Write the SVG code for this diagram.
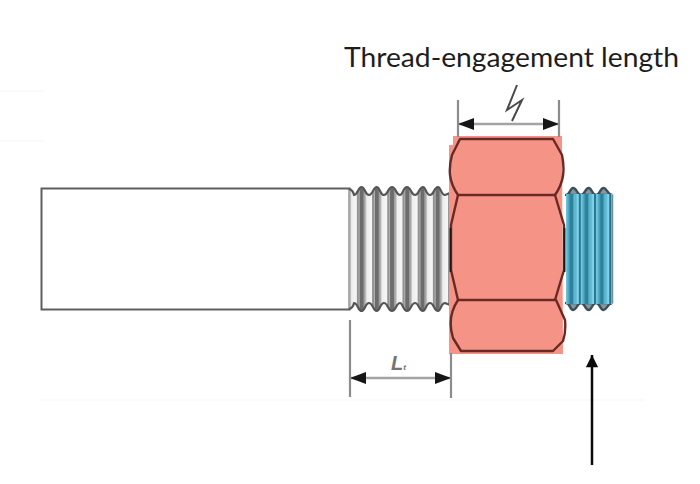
<svg xmlns="http://www.w3.org/2000/svg" width="700" height="484" viewBox="0 0 700 484">
<style>
.faint{stroke:#f6f6f6;stroke-width:1.2;fill:none}
.nutline{stroke:#6a2a24;stroke-width:2.4;fill:none;stroke-linejoin:round}
.ext{stroke:#8c8c8c;stroke-width:2.2;fill:none}
.dim{stroke:#a3a3a3;stroke-width:2.6;fill:none}
.head{fill:#161616}
.grey{stroke:#555;stroke-width:2.2;fill:none;stroke-linejoin:round}
.teal{stroke:#3d4f58;stroke-width:2.4;fill:#7f9aa3;stroke-linejoin:round}
</style>
<defs>
<filter id="soft" x="-5%" y="-5%" width="110%" height="110%"><feGaussianBlur stdDeviation="0.6"/></filter>
<pattern id="gt" patternUnits="userSpaceOnUse" x="354" y="0" width="15.2" height="10">
<rect width="15.2" height="10" fill="#c4c4c4"/>
<rect x="0" width="3" height="10" fill="#f4f4f4"/>
<rect x="3" width="1.6" height="10" fill="#8a8a8a"/>
<rect x="5.500" width="4.500" height="10" fill="#6c6c6c"/>
<rect x="10" width="1.6" height="10" fill="#a8a8a8"/>
<rect x="12.200" width="3" height="10" fill="#efefef"/>
</pattern>
<pattern id="bt" patternUnits="userSpaceOnUse" x="565.500" y="0" width="15.200" height="10">
<rect width="15.200" height="10" fill="#4fa8c4"/>
<rect x="0" width="2" height="10" fill="#6cc6df"/>
<rect x="4" width="4" height="10" fill="#2f8199"/>
<rect x="8" width="3" height="10" fill="#5db7d1"/>
<rect x="11" width="2.400" height="10" fill="#7ad3ea"/>
<rect x="13.400" width="1.800" height="10" fill="#2c6f86"/>
</pattern>
<marker id="ah" viewBox="0 0 16 12" refX="16" refY="6" markerWidth="16" markerHeight="12" markerUnits="userSpaceOnUse" orient="auto-start-reverse"><path d="M0 0L16 6L0 12Z" class="head"/></marker>
<marker id="up" viewBox="0 0 14 16" refX="14" refY="7" markerWidth="14" markerHeight="14" markerUnits="userSpaceOnUse" orient="auto"><path d="M0 0L14 7L0 14Z" fill="#0a0a0a"/></marker>
</defs>

<g id="background">
<path class="faint" d="M0 91H44M0 141H44M40 400H645"/>
</g>

<g id="bolt-body">
<rect x="41.500" y="188.500" width="308" height="121" fill="#fff" stroke="#5f5f5f" stroke-width="2"/>
</g>

<g id="bolt-thread">
<path fill="url(#gt)" filter="url(#soft)" d="M349 189C353 190 354 195 354 195C358 195 358 187 361.500 187C365 187 365 195 369 195C373 195 373 187 376.700 187C380 187 380 195 384 195C388 195 388 187 392 187C396 187 396 195 400 195C403 195 403 187 407 187C411 187 411 195 415 195C419 195 419 187 423 187C426 187 426 195 430 195C434 195 434 187 438 187C441 187 441 195 445 195L450 193V305L445 303C441 303 441 311 438 311C434 311 434 303 430 303C426 303 426 311 423 311C419 311 419 303 415 303C411 303 411 311 407 311C403 311 403 303 400 303C396 303 396 311 392 311C388 311 388 303 384 303C380 303 380 311 376.700 311C373 311 373 303 369 303C365 303 365 311 361.500 311C358 311 358 303 354 303C354 303 353 308 349 309Z"/>
<path class="grey" d="M349 189C353 190 354 195 354 195C358 195 358 187 361.500 187C365 187 365 195 369 195C373 195 373 187 376.700 187C380 187 380 195 384 195C388 195 388 187 392 187C396 187 396 195 400 195C403 195 403 187 407 187C411 187 411 195 415 195C419 195 419 187 423 187C426 187 426 195 430 195C434 195 434 187 438 187C441 187 441 195 445 195L450 193"/>
<path class="grey" d="M349 309C353 308 354 303 354 303C358 303 358 311 361.500 311C365 311 365 303 369 303C373 303 373 311 376.700 311C380 311 380 303 384 303C388 303 388 311 392 311C396 311 396 303 400 303C403 303 403 311 407 311C411 311 411 303 415 303C419 303 419 311 423 311C426 311 426 303 430 303C434 303 434 311 438 311C441 311 441 303 445 303L450 305"/>
</g>

<g id="bolt-end">
<path class="teal" d="M566 195C570 195 570 188 573 188C577 188 577 195 581 195C585 195 585 188 588.700 188C592 188 592 195 596 195C600 195 600 188 603.500 188C607 188 607 194 612 195Z"/>
<path class="teal" d="M566 303C570 303 570 310 573 310C577 310 577 303 581 303C585 303 585 310 588.700 310C592 310 592 303 596 303C600 303 600 310 603.500 310C607 310 607 304 612 303Z"/>
<rect x="566" y="194" width="47" height="110" fill="url(#bt)" filter="url(#soft)"/>
<path d="M612.500 195V303" stroke="#6d8f99" stroke-width="1.500" fill="none"/>
</g>

<g id="nut">
<path fill="#f69387" d="M453 136H562V146L563 354H449V145H453Z"/>
<path class="nutline" d="M460 139H553L562 155C565 170 564 182 555 195H458C449 182 448 170 452 155Z"/>
<path class="nutline" d="M458 195L451 225V270L458 300M555 195L564 225V270L555 300"/>
<path class="nutline" d="M458 300H556L565 320C566 330 565 335 563 341L553 351H461L453 338C449 325 450 312 458 300Z"/>
<path d="M450.500 228V272" stroke="#2a1512" stroke-width="1.800" fill="none"/>
<path d="M564.500 228V272" stroke="#2a1512" stroke-width="1.800" fill="none"/>
</g>

<g id="connectors">
<path class="ext" d="M458 100V137M559 100V137M350 320V397M451 353V398"/>
<path class="dim" d="M458 124H559" marker-start="url(#ah)" marker-end="url(#ah)"/>
<path class="dim" d="M350 378H451" marker-start="url(#ah)" marker-end="url(#ah)"/>
<path d="M592 465V355" stroke="#0a0a0a" stroke-width="2.500" fill="none" marker-end="url(#up)"/>
<path d="M517 85L507 110L522 100L512 121" stroke="#4a4a4a" stroke-width="2" fill="none" stroke-linejoin="miter"/>
</g>

<g id="labels">
<text x="344" y="67" font-family="Lato, sans-serif" font-size="27" fill="#1d1d1d" textLength="335" lengthAdjust="spacingAndGlyphs">Thread-engagement length</text>
<text x="391" y="370" font-family="'Liberation Sans', sans-serif" font-size="20" font-style="italic" font-weight="bold" fill="#747474">L<tspan font-size="8">t</tspan></text>
</g>
</svg>
